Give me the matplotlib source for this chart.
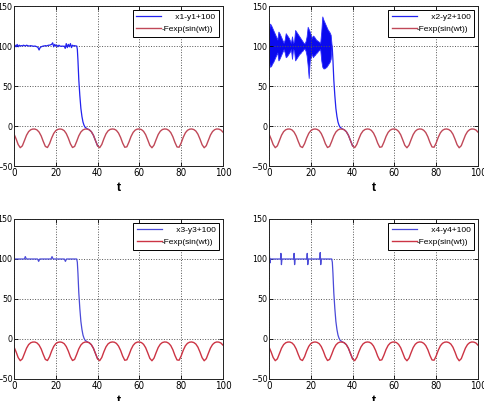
import matplotlib
matplotlib.use('Agg')
import matplotlib.pyplot as plt

# =========================
# DATA
# =========================
# reference signal -F*exp(sin(w*t)), sampled at t = 0, 1, ..., 100
t_ref = list(range(0, 101))
ref_vals = [
    -10.0, -16.1, -23.2, -27.1, -24.8, -18.2, -11.5, -7.0, -4.7, -3.8,
    -3.8, -4.9, -7.6, -12.4, -19.3, -25.5, -26.9, -22.2, -15.1, -9.3,
    -5.8, -4.2, -3.7, -4.2, -5.8, -9.4, -15.2, -22.3, -26.9, -25.5,
    -19.2, -12.3, -7.5, -4.9, -3.8, -3.8, -4.7, -7.1, -11.6, -18.3,
    -24.9, -27.1, -23.1, -16.0, -9.9, -6.1, -4.3, -3.7, -4.0, -5.5,
    -8.8, -14.3, -21.4, -26.6, -26.0, -20.1, -13.1, -8.0, -5.1, -3.9,
    -3.7, -4.5, -6.7, -10.9, -17.4, -24.2, -27.2, -23.9, -17.0, -10.6,
    -6.5, -4.4, -3.7, -3.9, -5.3, -8.2, -13.4, -20.5, -26.2, -26.5,
    -21.1, -14.0, -8.5, -5.4, -4.0, -3.7, -4.4, -6.3, -10.2, -16.4,
    -23.4, -27.2, -24.6, -17.9, -11.3, -6.9, -4.6, -3.7, -3.9, -5.0,
    -7.7,
]

# common fall-off of the error signals once synchronisation kicks in
t_tail = [30, 30.3, 30.6, 31, 31.5, 32, 32.5, 33, 33.5, 34, 35, 36, 37, 38, 39, 40]
tail_vals = [100, 96, 82, 58, 38, 22, 12, 5, 1, -1.5, -3.5, -4.7, -7.1, -11.6, -18.3, -24.9]

# x1-y1+100 (small noise around 100)
t_e1 = [i * 0.5 for i in range(60)]
e1_vals = [
    97, 101, 99, 102, 99, 101, 100, 100.5, 100, 101,
    100.5, 100, 101, 100.5, 100, 100, 100.5, 100, 100, 99.5,
    100, 99.5, 99, 98, 95, 98, 99, 99.5, 100, 100,
    100.5, 100, 100.5, 101, 101, 101.5, 102, 104, 99, 102,
    100, 101, 99, 101, 100, 99.5, 100, 99.5, 100, 97,
    103, 98, 102, 99, 103, 98, 101, 100, 100.5, 100,
]

# x2-y2+100 (strong oscillation: upper / lower envelope)
t_e2 = [i * 0.5 for i in range(61)]
e2_upper = [
    120, 128, 126, 123, 120, 117, 114, 111, 108, 118,
    116, 113, 110, 107, 104, 108, 116, 114, 112, 110,
    107, 104, 112, 104, 106, 120, 118, 116, 114, 112,
    110, 108, 106, 104, 103, 106, 112, 124, 121, 118,
    114, 110, 113, 112, 110, 108, 107, 106, 105, 104,
    118, 137, 133, 130, 127, 124, 121, 119, 117, 114,
    100,
]
e2_lower = [
    80, 74, 75, 78, 80, 83, 86, 89, 92, 82,
    84, 87, 90, 93, 96, 92, 86, 87, 89, 91,
    93, 96, 84, 96, 94, 82, 84, 86, 88, 90,
    91, 93, 94, 96, 97, 94, 88, 76, 60, 82,
    86, 90, 86, 88, 89, 91, 92, 94, 95, 96,
    82, 74, 72, 72, 73, 74, 76, 78, 80, 84,
    100,
]

# x3-y3+100 (flat with small bumps)
t_e3 = [0, 5.0, 5.4, 5.9, 11.3, 11.8, 12.3, 17.7, 18.2, 18.7, 24.1, 24.6, 25.1, 29.9]
e3_vals = [100, 100, 103, 100, 100, 97, 100, 100, 103, 100, 100, 97, 100, 100]

# x4-y4+100 (flat with short spikes)
t_e4 = [0, 0.2, 0.45, 0.7, 0.9,
        5.5, 5.7, 5.95, 6.2,
        11.8, 12.0, 12.25, 12.5,
        18.1, 18.3, 18.55, 18.8,
        24.3, 24.5, 24.75, 25.0, 29.9]
e4_vals = [100, 104, 95, 100, 100,
           100, 107, 93, 100,
           100, 107, 93, 100,
           100, 107, 93, 100,
           100, 108, 93, 100, 100]

labels = ["x1-y1+100", "x2-y2+100", "x3-y3+100", "x4-y4+100"]
ref_label = "-Fexp(sin(wt))"

yticks = [-50, 0, 50, 100, 150]
xticks = [0, 20, 40, 60, 80, 100]

BLUE_TOP = "#2222ee"
BLUE_BOT = "#4a4ad8"
RED_TOP = "#c04858"
RED_BOT = "#cc3444"

plt.rcParams['font.family'] = ['Liberation Sans', 'DejaVu Sans']

fig = plt.figure(figsize=(4.85, 4.01), dpi=100)
W, H = 485.0, 401.0
boxes = [(14, 6), (269, 6), (14, 219), (269, 219)]
axes = [fig.add_axes([x / W, 1 - (y + 160) / H, 209 / W, 160 / H]) for x, y in boxes]

for i, ax in enumerate(axes):
    blue = BLUE_TOP if i < 2 else BLUE_BOT
    red = RED_TOP if i < 2 else RED_BOT

    if i == 0:
        ax.plot(t_e1 + t_tail, e1_vals + tail_vals, color=blue, lw=0.9, label=labels[0])
    elif i == 1:
        ax.fill_between(t_e2, e2_lower, e2_upper, color="#0a0aee", lw=0.6, edgecolor="#3030ff")
        ax.plot(t_tail, tail_vals, color=blue, lw=0.9, label=labels[1])
    elif i == 2:
        ax.plot(t_e3 + t_tail, e3_vals + tail_vals, color=blue, lw=0.9, label=labels[2])
    else:
        ax.plot(t_e4 + t_tail, e4_vals + tail_vals, color=blue, lw=0.9, label=labels[3])

    ax.plot(t_ref, ref_vals, color=red, lw=1.0, label=ref_label)

    ax.set_xlim(0, 100)
    ax.set_ylim(-50, 150)
    ax.set_xticks(xticks)
    ax.set_yticks(yticks)
    ax.tick_params(direction='in', length=3, width=0.6, pad=1.5, top=True, right=True)
    ax.tick_params(axis='y', pad=1.0)
    # narrow MATLAB-like tick font
    for lab in ax.get_xticklabels():
        lab.set_family('DejaVu Sans')
        lab.set_stretch('condensed')
        lab.set_fontsize(7)
    for lab in ax.get_yticklabels():
        lab.set_family('DejaVu Sans')
        lab.set_stretch('condensed')
        lab.set_fontsize(6.3)
    ax.grid(True, linestyle=':', color='#555555', linewidth=0.7)
    for s in ax.spines.values():
        s.set_linewidth(0.7)
        s.set_color('#222222')

    ax.set_xlabel("t", fontsize=9, fontweight='bold', labelpad=3)

    handles, labs = ax.get_legend_handles_labels()
    labs = ["      " + labs[0], labs[1]]
    leg = ax.legend(handles, labs, loc='upper right', fontsize=6, frameon=True,
                    fancybox=False, framealpha=1, edgecolor='black',
                    handlelength=3.0, handletextpad=0.0, borderpad=0.4,
                    labelspacing=0.5, borderaxespad=0.5)
    leg.get_frame().set_linewidth(0.7)

plt.savefig("out.png", dpi=100)
plt.close()
